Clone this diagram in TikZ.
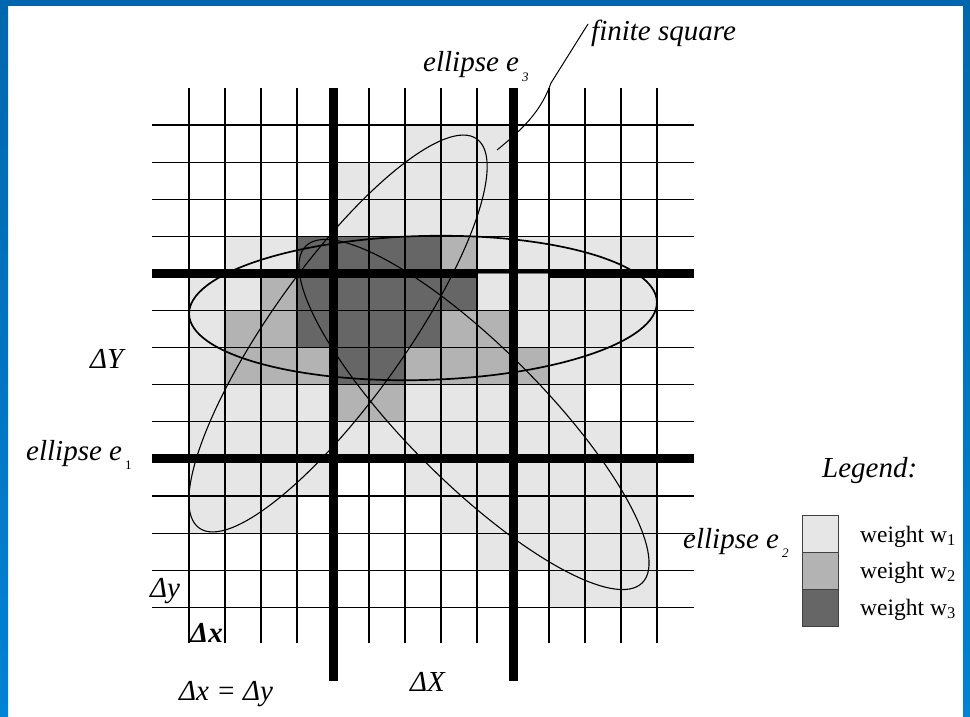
\documentclass[tikz,border=0pt]{standalone}
\usepackage{fontspec}
\setmainfont{Liberation Serif}
\newcommand{\esub}[1]{\hspace{3pt}\raisebox{-9.5pt}{\fontsize{13}{13}\selectfont #1}}
\begin{document}
\begin{tikzpicture}[x=1pt,y=-1pt]
\definecolor{wl}{HTML}{E6E6E6}
\definecolor{wm}{HTML}{B3B3B3}
\definecolor{wd}{HTML}{666666}
\definecolor{bluetop}{HTML}{0067AE}
\definecolor{bluebot}{HTML}{0082D6}
\tikzset{
  gridline/.style={line width=1.2pt, black},
  thickline/.style={line width=9pt, black},
  ell/.style={line width=1.1pt, black},
  lab/.style={font=\fontsize{29}{32}\selectfont\itshape, inner sep=0pt, anchor=base west},
  legtext/.style={font=\fontsize{23.5}{26}\selectfont, inner sep=0pt, anchor=base west},
  legbox/.style={draw=black!75, line width=1pt}
}
\useasboundingbox (0,0) rectangle (970,717);
\fill[white] (0,0) rectangle (970,717);
% blue frame
\shade[top color=bluetop, bottom color=bluebot] (0,0) rectangle (8,717);
\shade[top color=bluetop, bottom color=bluebot] (963,0) rectangle (970,717);
\fill[bluetop] (0,0) rectangle (970,6);
% cell fills: row/firstcol/lastcol/colour
\foreach \r/\a/\b/\c in {
  0/6/8/wl, 1/4/8/wl, 2/4/8/wl,
  3/1/2/wl, 3/3/6/wd, 3/7/7/wm, 3/8/12/wl,
  4/0/1/wl, 4/2/2/wm, 4/3/7/wd, 4/8/12/wl,
  5/0/0/wl, 5/1/2/wm, 5/3/6/wd, 5/7/8/wm, 5/9/12/wl,
  6/0/0/wl, 6/1/3/wm, 6/4/5/wd, 6/6/9/wm, 6/10/11/wl,
  7/0/3/wl, 7/4/5/wm, 7/6/10/wl,
  8/0/11/wl,
  9/0/3/wl, 9/6/12/wl,
  10/0/2/wl, 10/7/12/wl,
  11/8/12/wl,
  12/10/12/wl}
  \fill[\c] ({189+36*\a},{125+37.1*\r}) rectangle ({225+36*\b},{162.1+37.1*\r});
% thin grid
\foreach \k in {0,...,13}{
  \draw[gridline] ({189+36*\k},88) -- ({189+36*\k},643);
  \draw[gridline] (152,{125+37.1*\k}) -- (694,{125+37.1*\k});
}
% thick horizontal lines
\draw[thickline] (152,273.4) -- (694,273.4);
\draw[thickline] (152,458.9) -- (694,458.9);
% light patch drawn over the thick line
\fill[wl] (477,273.4) rectangle (549,278);
\draw[line width=1pt, black!55] (477,273.4) -- (549,273.4);
\draw[gridline] (477,273) -- (477,278);
\draw[gridline] (549,273) -- (549,278);
% thick vertical lines
\draw[thickline] (333,88) -- (333,681);
\draw[thickline] (513,88) -- (513,681);
% ellipses
\draw[line width=1.7pt, shift={(423,308)}, rotate=1.5] (0,0) ellipse [x radius=234pt, y radius=72pt];
\draw[ell, shift={(338,333.5)}, rotate=54.5] (0,0) ellipse [x radius=239pt, y radius=67pt];
\draw[ell, shift={(474,414.5)}, rotate=-45] (0,0) ellipse [x radius=238pt, y radius=68pt];
% finite square leader
\coordinate (fsq) at (497,150);
\coordinate (fsend) at (588,24);
\draw[line width=1pt] (fsq) .. controls (528,125) and (542,108) .. (551,83) -- (fsend);
% labels
\node[lab] (fs) at (591,41) {finite square};
\node[lab] (e3) at (423,72) {ellipse e\esub{3}};
\node[lab] (e1) at (26,460) {ellipse e\esub{\upshape 1}};
\node[lab] (e2) at (683,548) {ellipse e\esub{2}};
\node[lab] (dY) at (90,368) {ΔY};
\node[lab] (leg) at (822,477) {Legend:};
\node[lab] (dy) at (150,597) {Δy};
\node[lab, font=\fontsize{29}{32}\selectfont\itshape\bfseries] (dx) at (190,642) {Δx};
\node[lab] (dxy) at (179,700) {Δx = Δy};
\node[lab] (dX) at (410,691) {ΔX};
% legend
\draw[legbox, fill=wl] (802,515.7) rectangle (838,552.3);
\draw[legbox, fill=wm] (802,552.3) rectangle (838,589);
\draw[legbox, fill=wd] (802,589) rectangle (838,626);
\node[legtext] (w1) at (860,542) {weight w\textsubscript{1}};
\node[legtext] (w2) at (860,578) {weight w\textsubscript{2}};
\node[legtext] (w3) at (860,615) {weight w\textsubscript{3}};
\end{tikzpicture}
\end{document}
